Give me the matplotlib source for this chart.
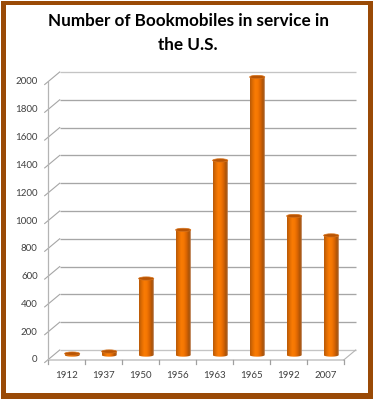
# -*- coding: utf-8 -*-
"""Number of Bookmobiles in service in the U.S. -- fake-3D Excel style column chart."""

import numpy as np
import matplotlib
matplotlib.use("Agg")
import matplotlib.pyplot as plt
from matplotlib.colors import LinearSegmentedColormap
from matplotlib.patches import Ellipse, PathPatch, Rectangle
from matplotlib.path import Path
from matplotlib.transforms import offset_copy

years = ["1912", "1937", "1950", "1956", "1963", "1965", "1992", "2007"]
bookmobiles = [10, 25, 550, 900, 1400, 2000, 1000, 860]
y_ticks = [0, 200, 400, 600, 800, 1000, 1200, 1400, 1600, 1800, 2000]

W, H = 373, 400
DEPTH_X, DEPTH_Y = 6, 5     # px between bar plane and back wall / front edge
BAR_W = 0.41                # in category units
CAP_H = 24                  # full ellipse height in value units

plt.rcParams["font.family"] = ["Lato", "DejaVu Sans"]

fig = plt.figure(figsize=(W / 100, H / 100), dpi=100, facecolor="white")


def frame_rect(x0, y0, x1, y1, color):
    # pixel coords, y measured from the top like the screenshot
    # zorder below the axes, figure patches draw on top otherwise
    fig.add_artist(Rectangle((x0 / W, 1 - y1 / H), (x1 - x0) / W, (y1 - y0) / H,
                             transform=fig.transFigure, fc=color, ec="none", zorder=-2))


frame_rect(1, 1, W, 399, "#9A4A06")
frame_rect(6, 5, 368, 393, "white")

# axes = the plane the bars stand on, category index / value
ax = fig.add_axes([53.7 / W, 45 / H, 296 / W, 278 / H])
ax.set_axis_off()

back = offset_copy(ax.transData, fig=fig, x=DEPTH_X, y=DEPTH_Y, units="dots")
front = offset_copy(ax.transData, fig=fig, x=-DEPTH_X, y=-DEPTH_Y, units="dots")

xmin, xmax = -0.5, len(years) - 0.5
ymax = y_ticks[-1]
px_x = 1 / 37.0             # one pixel in category units
px_y = ymax / 278.0         # one pixel in value units

# walls and floor
for v in y_ticks:
    c = "#c4c4c4" if v in (0, ymax) else "#a6a6a6"
    ax.plot([xmin, xmax], [v, v], transform=back, color=c, lw=0.95, clip_on=False,
            solid_capstyle="butt", zorder=1)
    # diagonal on the side wall, pokes a little past the axis as a tick
    ax.plot([xmin - 1.5 * DEPTH_X * px_x, xmin + DEPTH_X * px_x],
            [v - 1.5 * DEPTH_Y * px_y, v + DEPTH_Y * px_y],
            color="#a6a6a6", lw=0.8, clip_on=False, zorder=1)
    ax.text(xmin - 10 * px_x, v, str(v), transform=front,
            ha="right", va="center", fontsize=7, color="#404040", clip_on=False)

ax.plot([xmin, xmin], [0, ymax], transform=front, color="#b4b4b4", lw=0.9, clip_on=False, zorder=1)
ax.plot([xmin, xmax], [0, 0], transform=front, color="#c4c4c4", lw=1.1, clip_on=False, zorder=1)
ax.plot([xmax - DEPTH_X * px_x, xmax + DEPTH_X * px_x],
        [-DEPTH_Y * px_y, DEPTH_Y * px_y], color="#b4b4b4", lw=0.8, clip_on=False, zorder=1)

for i in range(len(years) + 1):
    ax.plot([i - 0.5, i - 0.5], [0, -3.5 * px_y], transform=front, color="#a0a0a0",
            lw=0.9, clip_on=False, zorder=1)
for i, year in enumerate(years):
    ax.text(i, -16 * px_y, year, transform=front, ha="center", va="center",
            fontsize=7, color="#404040", clip_on=False)

# cylinders
bar_cmap = LinearSegmentedColormap.from_list(
    "bar", ["#B85A08", "#E06C02", "#FA7C04", "#F57602", "#D86402", "#A85208", "#C09070"])
gradient = np.linspace(0, 1, 64).reshape(1, -1)

for i, v in enumerate(bookmobiles):
    left, right = i - BAR_W / 2, i + BAR_W / 2
    t = np.linspace(np.pi, 2 * np.pi, 30)
    arc_x = i + BAR_W / 2 * np.cos(t)
    arc_y = CAP_H / 2 * np.sin(t)
    verts = [(left, v)] + list(zip(arc_x, arc_y)) + [(right, v), (left, v)]
    codes = [Path.MOVETO] + [Path.LINETO] * (len(verts) - 2) + [Path.CLOSEPOLY]
    clip = PathPatch(Path(verts, codes), transform=ax.transData, fc="none", ec="none",
                     clip_on=False)
    ax.add_patch(clip)
    im = ax.imshow(gradient, cmap=bar_cmap, extent=[left, right, -CAP_H, v], aspect="auto",
                   interpolation="bilinear", zorder=3)
    # rounded base hangs below y=0, so the axes box must not clip it
    im.set_clip_box(fig.bbox)
    im.set_clip_path(clip)
    ax.add_patch(Ellipse((i, v), BAR_W, CAP_H, fc="#B85404", ec="#D8741C", lw=0.5,
                         clip_on=False, zorder=4))

ax.set_xlim(xmin, xmax)
ax.set_ylim(0, ymax)

fig.text(188 / W, 1 - 21 / H, "Number of Bookmobiles in service in", ha="center", va="center",
         fontsize=12.3, fontweight="bold", color="black")
fig.text(188 / W, 1 - 44.5 / H, "the U.S.", ha="center", va="center",
         fontsize=12.3, fontweight="bold", color="black")

fig.savefig("out.png", dpi=100)
